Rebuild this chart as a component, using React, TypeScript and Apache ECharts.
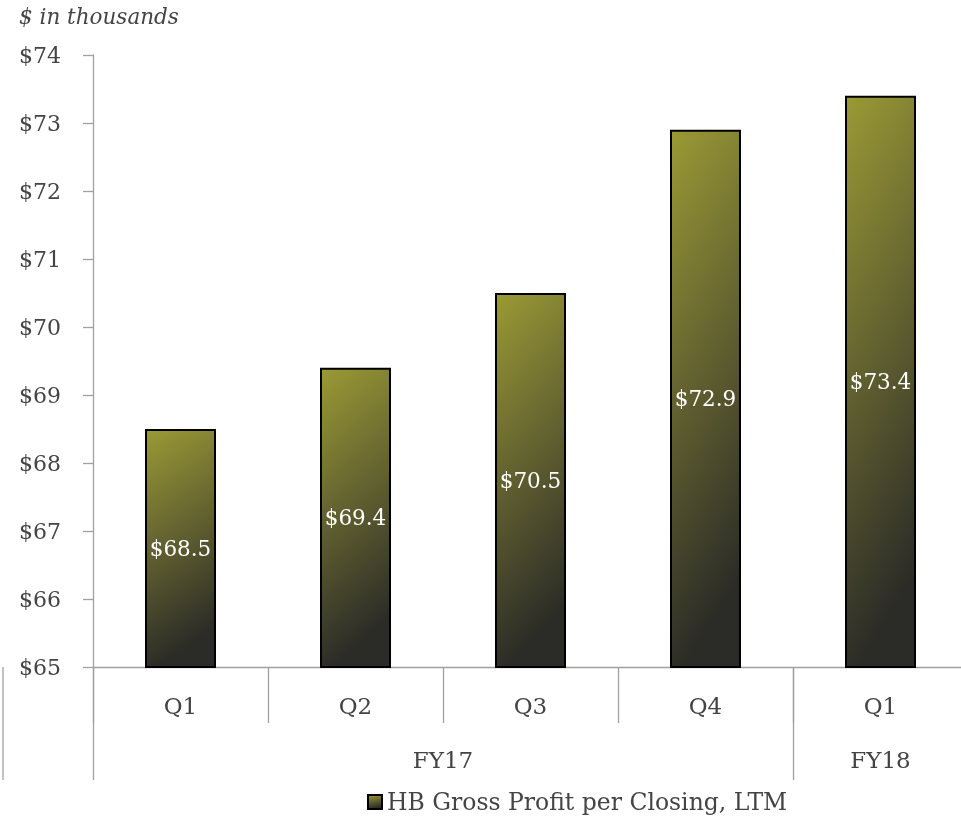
import React, { useEffect, useRef } from "react";
import * as echarts from "echarts";

const quarters = ["Q1", "Q2", "Q3", "Q4", "Q1"];
const fiscalYears = ["FY17", "FY18"];
const fiscalYearCenters = [2, 4.5];
const fiscalYearBoundaries = [0, 4];
const values = [68.5, 69.4, 70.5, 72.9, 73.4];
const seriesName = "HB Gross Profit per Closing, LTM";
const yMin = 65;
const yMax = 74;
const yStep = 1;

const FONT = "DejaVu Serif";
const TEXT = "#444444";
const AXIS = "#a0a0a0";

export default function App() {
  const ref = useRef<HTMLDivElement>(null);
  useEffect(() => {
    if (!ref.current) return;
    const chart = echarts.init(ref.current, undefined, { renderer: "svg" });
    const grad = new echarts.graphic.LinearGradient(0, 0, 0.2, 1, [
      { offset: 0, color: "#9b9a35" },
      { offset: 0.5, color: "#636230" },
      { offset: 1, color: "#2b2b27" },
    ]);
    chart.setOption({
      animation: false,
      textStyle: { fontFamily: FONT },
      title: {
        text: "$ in thousands",
        left: 19,
        top: 5,
        padding: 0,
        textStyle: { fontFamily: FONT, fontStyle: "italic", fontWeight: "normal", fontSize: 21.5, color: TEXT },
      },
      legend: {
        data: [seriesName],
        left: 367,
        top: 790,
        padding: 0,
        itemWidth: 14,
        itemHeight: 14,
        itemGap: 5,
        icon: "rect",
        textStyle: { fontFamily: FONT, fontSize: 23.5, color: TEXT },
      },
      grid: {
        left: 93,
        width: 875,
        top: 55,
        height: 612,
        containLabel: false,
        outerBoundsMode: "none",
      },
      xAxis: [
        {
          type: "category",
          data: quarters,
          position: "bottom",
          offset: 0,
          axisLine: { show: true, onZero: false, lineStyle: { color: AXIS, width: 1.3 } },
          axisTick: { show: true, interval: 0, length: 56, lineStyle: { color: AXIS, width: 1.3 } },
          axisLabel: { interval: 0, margin: 27, fontFamily: FONT, fontSize: 23, color: TEXT },
        },
        {
          type: "value",
          min: 0,
          max: 5,
          interval: 0.5,
          position: "bottom",
          offset: 0,
          axisLine: { show: false },
          axisTick: { show: false },
          splitLine: { show: false },
          axisLabel: {
            margin: 81,
            fontFamily: FONT,
            fontSize: 23,
            color: TEXT,
            formatter: (v: number) => {
              const i = fiscalYearCenters.indexOf(v);
              return i >= 0 ? fiscalYears[i] : "";
            },
          },
        },
        {
          type: "category",
          data: quarters,
          position: "bottom",
          offset: 0,
          axisLine: { show: false },
          axisLabel: { show: false },
          axisTick: {
            show: true,
            interval: (i: number) => fiscalYearBoundaries.indexOf(i) >= 0,
            length: 113,
            lineStyle: { color: AXIS, width: 1.3 },
          },
        },
      ],
      yAxis: {
        type: "value",
        min: yMin,
        max: yMax,
        interval: yStep,
        axisLine: { show: true, onZero: false, lineStyle: { color: AXIS, width: 1.3 } },
        axisTick: { show: true, length: 10, lineStyle: { color: AXIS, width: 1.3 } },
        splitLine: { show: false },
        axisLabel: {
          align: "left",
          margin: 74,
          fontFamily: FONT,
          fontSize: 22,
          color: TEXT,
          formatter: (v: number) => "$" + v,
        },
      },
      series: [
        {
          name: seriesName,
          type: "bar",
          xAxisIndex: 0,
          data: values,
          barWidth: 71,
          itemStyle: { color: grad, borderColor: "#000", borderWidth: 2 },
          label: {
            show: true,
            position: "inside",
            color: "#ffffff",
            fontFamily: FONT,
            fontSize: 21.5,
            formatter: (p: any) => "$" + Number(p.value).toFixed(1),
          },
        },
      ],
      graphic: [
        {
          type: "line",
          shape: { x1: 3, y1: 667, x2: 3, y2: 780 },
          style: { stroke: AXIS, lineWidth: 1.3 },
        },
      ],
    });
    return () => chart.dispose();
  }, []);
  return <div ref={ref} style={{ position: "fixed", left: 0, top: 0, width: 961, height: 817 }} />;
}
